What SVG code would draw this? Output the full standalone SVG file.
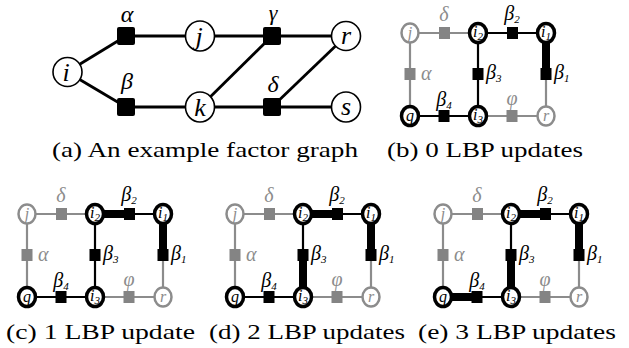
<svg xmlns="http://www.w3.org/2000/svg" width="629" height="348" viewBox="0 0 629 348">
<style>
.cap{font-family:"Liberation Serif",serif;font-size:21px;fill:#000}
.it{font-family:"Liberation Serif",serif;font-style:italic}
.ae{stroke:#000;stroke-width:2.8;fill:none}
.an ellipse{fill:#fff;stroke:#000;stroke-width:1.6}
.an text{font-size:26px;text-anchor:middle;fill:#000}
.af rect{fill:#000}
.af text{font-size:24px;text-anchor:middle;fill:#000}
.g{stroke:#8c8c8c;stroke-width:2.2;fill:none}
.b{stroke:#000;stroke-width:2.2;fill:none}
.t{stroke:#000;stroke-width:8;fill:none}
.gn ellipse{fill:#fff;stroke:#8c8c8c;stroke-width:2.5}
.bn ellipse{fill:#fff;stroke:#000;stroke-width:3.5}
.gn text{fill:#8c8c8c;font-size:16px;text-anchor:middle}
.bn text{fill:#000;font-size:16px;text-anchor:middle}
.gf rect{fill:#848484}
.bf rect{fill:#000}
.gf text{fill:#8c8c8c;font-size:20px}
.bf text{fill:#000;font-size:20px}
.sub{font-size:11px}
</style>

<!-- Panel (a) -->
<g id="a-connectors">
<line class="ae" x1="67" y1="72" x2="126" y2="36"/>
<line class="ae" x1="67" y1="72" x2="126" y2="107"/>
<line class="ae" x1="126" y1="36" x2="346" y2="36"/>
<line class="ae" x1="126" y1="107" x2="346" y2="107"/>
<line class="ae" x1="200" y1="107" x2="272" y2="36"/>
<line class="ae" x1="272" y1="107" x2="346" y2="36"/>
</g>
<g id="a-i" class="an it"><ellipse cx="67.5" cy="72" rx="14.5" ry="14.5"/><text x="66" y="81">i</text></g>
<g id="a-j" class="an it"><ellipse cx="200" cy="36" rx="14.5" ry="15"/><text x="199" y="45">j</text></g>
<g id="a-k" class="an it"><ellipse cx="200" cy="107" rx="14.5" ry="15"/><text x="200" y="116">k</text></g>
<g id="a-r" class="an it"><ellipse cx="346" cy="36" rx="14.5" ry="14.5"/><text x="346" y="44">r</text></g>
<g id="a-s" class="an it"><ellipse cx="346" cy="107" rx="14.5" ry="15"/><text x="346" y="115">s</text></g>
<g id="a-alpha" class="af it"><rect x="117" y="27" width="18" height="18" rx="2"/><text x="127" y="22">α</text></g>
<g id="a-beta" class="af it"><rect x="117" y="98" width="18" height="18" rx="2"/><text x="127" y="89">β</text></g>
<g id="a-gamma" class="af it"><rect x="263" y="27" width="18" height="18" rx="2"/><text x="273" y="20" style="font-size:22px">γ</text></g>
<g id="a-delta" class="af it"><rect x="263" y="98" width="18" height="18" rx="2"/><text x="273" y="92">δ</text></g>
<text class="cap" x="52" y="157" textLength="306" lengthAdjust="spacingAndGlyphs">(a) An example factor graph</text>

<!-- Panel (b) -->
<g transform="translate(410,33)">
<g id="b-connectors">
<line class="g" x1="0" y1="0" x2="68" y2="0"/>
<line class="b" x1="68" y1="0" x2="136" y2="0"/>
<line class="t" x1="136" y1="0" x2="136" y2="41"/>
<line class="g" x1="136" y1="41" x2="136" y2="83"/>
<line class="g" x1="0" y1="0" x2="0" y2="83"/>
<line class="b" x1="0" y1="83" x2="68" y2="83"/>
<line class="b" x1="68" y1="0" x2="68" y2="83"/>
<line class="g" x1="68" y1="83" x2="136" y2="83"/>
</g>
<g id="b-j" class="gn it"><ellipse cx="0" cy="0" rx="8.5" ry="9.5"/><text x="0" y="5">j</text></g>
<g id="b-i2" class="bn it"><ellipse cx="68" cy="0" rx="8.5" ry="9.5"/><text x="68" y="4">i<tspan class="sub" dy="3">2</tspan></text></g>
<g id="b-i1" class="bn it"><ellipse cx="136" cy="0" rx="8.5" ry="9.5"/><text x="136" y="4">i<tspan class="sub" dy="3">1</tspan></text></g>
<g id="b-q" class="bn it"><ellipse cx="0" cy="83" rx="8.5" ry="9.5"/><text x="0" y="88">q</text></g>
<g id="b-i3" class="bn it"><ellipse cx="68" cy="83" rx="8.5" ry="9.5"/><text x="68" y="87">i<tspan class="sub" dy="3">3</tspan></text></g>
<g id="b-r" class="gn it"><ellipse cx="136" cy="83" rx="8.5" ry="9.5"/><text x="136" y="88">r</text></g>
<g id="b-delta" class="gf it"><rect x="29" y="-6" width="11" height="12"/><text x="34" y="-12" text-anchor="middle">δ</text></g>
<g id="b-beta2" class="bf it"><rect x="97" y="-6" width="11" height="12"/><text x="102" y="-13" text-anchor="middle">β<tspan class="sub" dy="3">2</tspan></text></g>
<g id="b-alpha" class="gf it"><rect x="-5.5" y="35" width="11" height="12"/><text x="11" y="47">α</text></g>
<g id="b-beta3" class="bf it"><rect x="62.5" y="35" width="11" height="12"/><text x="76" y="46">β<tspan class="sub" dy="3">3</tspan></text></g>
<g id="b-beta1" class="bf it"><rect x="130.5" y="35" width="11" height="12"/><text x="144" y="46">β<tspan class="sub" dy="3">1</tspan></text></g>
<g id="b-beta4" class="bf it"><rect x="28.5" y="77" width="11" height="12"/><text x="34" y="73" text-anchor="middle">β<tspan class="sub" dy="3">4</tspan></text></g>
<g id="b-phi" class="gf it"><rect x="96.5" y="77" width="11" height="12"/><text x="102" y="72" text-anchor="middle">φ</text></g>
</g>
<text class="cap" x="387" y="157" textLength="196" lengthAdjust="spacingAndGlyphs">(b) 0 LBP updates</text>

<!-- Panel (c) -->
<g transform="translate(27,214)">
<g id="c-connectors">
<line class="g" x1="0" y1="0" x2="68" y2="0"/>
<line class="b" x1="68" y1="0" x2="136" y2="0"/>
<line class="t" x1="68" y1="0" x2="102" y2="0"/>
<line class="t" x1="136" y1="0" x2="136" y2="41"/>
<line class="g" x1="136" y1="41" x2="136" y2="83"/>
<line class="g" x1="0" y1="0" x2="0" y2="83"/>
<line class="b" x1="0" y1="83" x2="68" y2="83"/>
<line class="b" x1="68" y1="0" x2="68" y2="83"/>
<line class="g" x1="68" y1="83" x2="136" y2="83"/>
</g>
<g id="c-j" class="gn it"><ellipse cx="0" cy="0" rx="8.5" ry="9.5"/><text x="0" y="5">j</text></g>
<g id="c-i2" class="bn it"><ellipse cx="68" cy="0" rx="8.5" ry="9.5"/><text x="68" y="4">i<tspan class="sub" dy="3">2</tspan></text></g>
<g id="c-i1" class="bn it"><ellipse cx="136" cy="0" rx="8.5" ry="9.5"/><text x="136" y="4">i<tspan class="sub" dy="3">1</tspan></text></g>
<g id="c-q" class="bn it"><ellipse cx="0" cy="83" rx="8.5" ry="9.5"/><text x="0" y="88">q</text></g>
<g id="c-i3" class="bn it"><ellipse cx="68" cy="83" rx="8.5" ry="9.5"/><text x="68" y="87">i<tspan class="sub" dy="3">3</tspan></text></g>
<g id="c-r" class="gn it"><ellipse cx="136" cy="83" rx="8.5" ry="9.5"/><text x="136" y="88">r</text></g>
<g id="c-delta" class="gf it"><rect x="29" y="-6" width="11" height="12"/><text x="34" y="-12" text-anchor="middle">δ</text></g>
<g id="c-beta2" class="bf it"><rect x="97" y="-6" width="11" height="12"/><text x="102" y="-13" text-anchor="middle">β<tspan class="sub" dy="3">2</tspan></text></g>
<g id="c-alpha" class="gf it"><rect x="-5.5" y="35" width="11" height="12"/><text x="11" y="47">α</text></g>
<g id="c-beta3" class="bf it"><rect x="62.5" y="35" width="11" height="12"/><text x="76" y="46">β<tspan class="sub" dy="3">3</tspan></text></g>
<g id="c-beta1" class="bf it"><rect x="130.5" y="35" width="11" height="12"/><text x="144" y="46">β<tspan class="sub" dy="3">1</tspan></text></g>
<g id="c-beta4" class="bf it"><rect x="28.5" y="77" width="11" height="12"/><text x="34" y="73" text-anchor="middle">β<tspan class="sub" dy="3">4</tspan></text></g>
<g id="c-phi" class="gf it"><rect x="96.5" y="77" width="11" height="12"/><text x="102" y="72" text-anchor="middle">φ</text></g>
</g>
<text class="cap" x="6" y="339" textLength="189" lengthAdjust="spacingAndGlyphs">(c) 1 LBP update</text>

<!-- Panel (d) -->
<g transform="translate(235,214)">
<g id="d-connectors">
<line class="g" x1="0" y1="0" x2="68" y2="0"/>
<line class="b" x1="68" y1="0" x2="136" y2="0"/>
<line class="t" x1="68" y1="0" x2="102" y2="0"/>
<line class="t" x1="136" y1="0" x2="136" y2="41"/>
<line class="g" x1="136" y1="41" x2="136" y2="83"/>
<line class="g" x1="0" y1="0" x2="0" y2="83"/>
<line class="b" x1="0" y1="83" x2="68" y2="83"/>
<line class="b" x1="68" y1="0" x2="68" y2="83"/>
<line class="t" x1="68" y1="41" x2="68" y2="83"/>
<line class="g" x1="68" y1="83" x2="136" y2="83"/>
</g>
<g id="d-j" class="gn it"><ellipse cx="0" cy="0" rx="8.5" ry="9.5"/><text x="0" y="5">j</text></g>
<g id="d-i2" class="bn it"><ellipse cx="68" cy="0" rx="8.5" ry="9.5"/><text x="68" y="4">i<tspan class="sub" dy="3">2</tspan></text></g>
<g id="d-i1" class="bn it"><ellipse cx="136" cy="0" rx="8.5" ry="9.5"/><text x="136" y="4">i<tspan class="sub" dy="3">1</tspan></text></g>
<g id="d-q" class="bn it"><ellipse cx="0" cy="83" rx="8.5" ry="9.5"/><text x="0" y="88">q</text></g>
<g id="d-i3" class="bn it"><ellipse cx="68" cy="83" rx="8.5" ry="9.5"/><text x="68" y="87">i<tspan class="sub" dy="3">3</tspan></text></g>
<g id="d-r" class="gn it"><ellipse cx="136" cy="83" rx="8.5" ry="9.5"/><text x="136" y="88">r</text></g>
<g id="d-delta" class="gf it"><rect x="29" y="-6" width="11" height="12"/><text x="34" y="-12" text-anchor="middle">δ</text></g>
<g id="d-beta2" class="bf it"><rect x="97" y="-6" width="11" height="12"/><text x="102" y="-13" text-anchor="middle">β<tspan class="sub" dy="3">2</tspan></text></g>
<g id="d-alpha" class="gf it"><rect x="-5.5" y="35" width="11" height="12"/><text x="11" y="47">α</text></g>
<g id="d-beta3" class="bf it"><rect x="62.5" y="35" width="11" height="12"/><text x="76" y="46">β<tspan class="sub" dy="3">3</tspan></text></g>
<g id="d-beta1" class="bf it"><rect x="130.5" y="35" width="11" height="12"/><text x="144" y="46">β<tspan class="sub" dy="3">1</tspan></text></g>
<g id="d-beta4" class="bf it"><rect x="28.5" y="77" width="11" height="12"/><text x="34" y="73" text-anchor="middle">β<tspan class="sub" dy="3">4</tspan></text></g>
<g id="d-phi" class="gf it"><rect x="96.5" y="77" width="11" height="12"/><text x="102" y="72" text-anchor="middle">φ</text></g>
</g>
<text class="cap" x="209" y="339" textLength="196" lengthAdjust="spacingAndGlyphs">(d) 2 LBP updates</text>

<!-- Panel (e) -->
<g transform="translate(443,214)">
<g id="e-connectors">
<line class="g" x1="0" y1="0" x2="68" y2="0"/>
<line class="b" x1="68" y1="0" x2="136" y2="0"/>
<line class="t" x1="68" y1="0" x2="102" y2="0"/>
<line class="t" x1="136" y1="0" x2="136" y2="41"/>
<line class="g" x1="136" y1="41" x2="136" y2="83"/>
<line class="g" x1="0" y1="0" x2="0" y2="83"/>
<line class="b" x1="0" y1="83" x2="68" y2="83"/>
<line class="t" x1="0" y1="83" x2="34" y2="83"/>
<line class="b" x1="68" y1="0" x2="68" y2="83"/>
<line class="t" x1="68" y1="41" x2="68" y2="83"/>
<line class="g" x1="68" y1="83" x2="136" y2="83"/>
</g>
<g id="e-j" class="gn it"><ellipse cx="0" cy="0" rx="8.5" ry="9.5"/><text x="0" y="5">j</text></g>
<g id="e-i2" class="bn it"><ellipse cx="68" cy="0" rx="8.5" ry="9.5"/><text x="68" y="4">i<tspan class="sub" dy="3">2</tspan></text></g>
<g id="e-i1" class="bn it"><ellipse cx="136" cy="0" rx="8.5" ry="9.5"/><text x="136" y="4">i<tspan class="sub" dy="3">1</tspan></text></g>
<g id="e-q" class="bn it"><ellipse cx="0" cy="83" rx="8.5" ry="9.5"/><text x="0" y="88">q</text></g>
<g id="e-i3" class="bn it"><ellipse cx="68" cy="83" rx="8.5" ry="9.5"/><text x="68" y="87">i<tspan class="sub" dy="3">3</tspan></text></g>
<g id="e-r" class="gn it"><ellipse cx="136" cy="83" rx="8.5" ry="9.5"/><text x="136" y="88">r</text></g>
<g id="e-delta" class="gf it"><rect x="29" y="-6" width="11" height="12"/><text x="34" y="-12" text-anchor="middle">δ</text></g>
<g id="e-beta2" class="bf it"><rect x="97" y="-6" width="11" height="12"/><text x="102" y="-13" text-anchor="middle">β<tspan class="sub" dy="3">2</tspan></text></g>
<g id="e-alpha" class="gf it"><rect x="-5.5" y="35" width="11" height="12"/><text x="11" y="47">α</text></g>
<g id="e-beta3" class="bf it"><rect x="62.5" y="35" width="11" height="12"/><text x="76" y="46">β<tspan class="sub" dy="3">3</tspan></text></g>
<g id="e-beta1" class="bf it"><rect x="130.5" y="35" width="11" height="12"/><text x="144" y="46">β<tspan class="sub" dy="3">1</tspan></text></g>
<g id="e-beta4" class="bf it"><rect x="28.5" y="77" width="11" height="12"/><text x="34" y="73" text-anchor="middle">β<tspan class="sub" dy="3">4</tspan></text></g>
<g id="e-phi" class="gf it"><rect x="96.5" y="77" width="11" height="12"/><text x="102" y="72" text-anchor="middle">φ</text></g>
</g>
<text class="cap" x="418" y="339" textLength="198" lengthAdjust="spacingAndGlyphs">(e) 3 LBP updates</text>
</svg>
